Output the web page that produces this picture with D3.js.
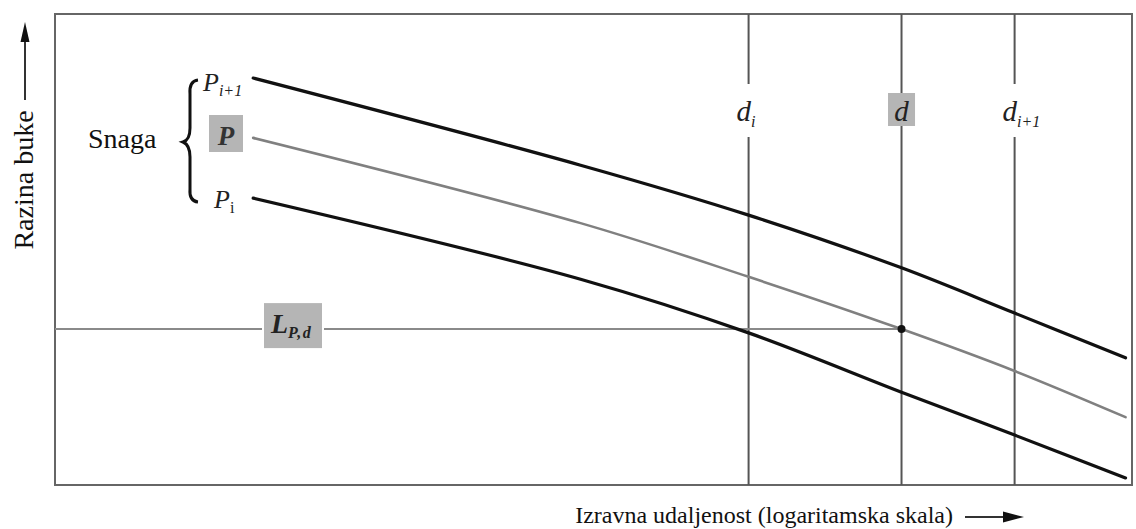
<!DOCTYPE html>
<html><head><meta charset="utf-8">
<script src="https://cdn.jsdelivr.net/npm/d3@7"></script>
<style>
html,body{margin:0;padding:0;background:#fff;}
svg{display:block;font-family:"Liberation Serif","DejaVu Serif",serif;}
</style></head>
<body>
<svg id="c" width="1136" height="529"></svg>
<script>
// ---- data (arbitrary units) ----
const distancePts = [18.4, 48.8, 64.4, 78.6, 89.1, 99.4];
const levelHigh   = [86.4, 67.9, 57.3, 46.1, 36.5, 27.0];   // P_{i+1}
const levelMid    = [73.7, 55.6, 44.2, 33.1, 24.2, 14.4];   // P
const levelLow    = [60.9, 43.7, 32.3, 19.7, 10.6, 1.5];    // P_i
const markerDistances = [64.4, 78.6, 89.1];                  // d_i, d, d_{i+1}
const markerLabels = [["d","i"],["d",""],["d","i+1"]];
const levelLpd = 33.1;
const xTitle = "Izravna udaljenost (logaritamska skala)";
const yTitle = "Razina buke";
const groupTitle = "Snaga";

const svg = d3.select("#c");
const L = 55, R = 1132, T = 14, B = 485;
const x = d3.scaleLinear().domain([0,100]).range([L,R]);
const y = d3.scaleLinear().domain([0,100]).range([B,T]);

// frame
svg.append("rect").attr("x",L).attr("y",T).attr("width",R-L).attr("height",B-T)
  .attr("fill","none").attr("stroke","#666").attr("stroke-width",2);

// vertical marker lines
markerDistances.forEach((d,i)=>{
  svg.append("line").attr("x1",x(d)).attr("x2",x(d)).attr("y1",T).attr("y2",B)
    .attr("stroke","#555").attr("stroke-width",2);
});

// horizontal L_P,d line
svg.append("line").attr("x1",L).attr("x2",x(markerDistances[1]))
  .attr("y1",y(levelLpd)).attr("y2",y(levelLpd))
  .attr("stroke","#8a8a8a").attr("stroke-width",2);

// curves
const line = d3.line().x((d,i)=>x(distancePts[i])).y(d=>y(d)).curve(d3.curveCatmullRom.alpha(0.5));
[[levelLow,"#111",3.2],[levelMid,"#808080",2.6],[levelHigh,"#111",3.2]].forEach(([arr,c,w])=>{
  svg.append("path").attr("d",line(arr)).attr("fill","none").attr("stroke",c)
    .attr("stroke-width",w).attr("stroke-linecap","round");
});

// intersection dot
svg.append("circle").attr("cx",x(markerDistances[1])).attr("cy",y(levelLpd)).attr("r",4).attr("fill","#111");

// marker labels with gaps
markerLabels.forEach((lab,i)=>{
  const cx = x(markerDistances[i]);
  const g = svg.append("g");
  const bg = g.append("rect");
  const t = g.append("text").attr("x", cx - (lab[1]? 12 : 0)).attr("y",121)
    .attr("text-anchor", lab[1] ? "start" : "middle")
    .attr("font-size",29).attr("font-style","italic").attr("fill","#222");
  t.append("tspan").text(lab[0]);
  if(lab[1]) t.append("tspan").attr("font-size",16).attr("font-style","italic").attr("dy",6).text(lab[1]);
  if(i===1){
    bg.attr("x",cx-13.5).attr("y",93).attr("width",27).attr("height",33).attr("fill","#b5b5b5");
  } else {
    bg.attr("x",cx-14).attr("y",84).attr("width",28).attr("height",53).attr("fill","#fff");
  }
});

// L_P,d label box
const lx = 293, ly = y(levelLpd);
svg.append("rect").attr("x",lx-31).attr("y",ly-26).attr("width",62).attr("height",45).attr("fill","#fff");
svg.append("rect").attr("x",lx-29).attr("y",ly-26).attr("width",58).attr("height",45).attr("fill","#b5b5b5");
const lt = svg.append("text").attr("x",lx-22).attr("y",ly+4).attr("font-size",28)
  .attr("font-style","italic").attr("font-weight","bold").attr("fill","#222");
lt.append("tspan").text("L");
lt.append("tspan").attr("font-size",16).attr("dy",5).attr("letter-spacing",1.5).text("P,d");

// P labels
const pTxt = (px,py,sub,subStyle)=>{
  const t = svg.append("text").attr("x",px).attr("y",py).attr("font-size",26)
    .attr("font-style","italic").attr("fill","#222");
  t.append("tspan").text("P");
  t.append("tspan").attr("font-size",16).attr("dy",5).attr("font-style",subStyle).text(sub);
};
pTxt(203, y(levelHigh[0])+13, "i+1","italic");
pTxt(214, y(levelLow[0])+10, "i","normal");
svg.append("rect").attr("x",209).attr("y",115).attr("width",34).attr("height",37).attr("fill","#b5b5b5");
svg.append("text").attr("x",226).attr("y",145).attr("text-anchor","middle").attr("font-size",27)
  .attr("font-style","italic").attr("font-weight","bold").attr("fill","#333").text("P");

// brace
svg.append("path")
  .attr("d","M198,80 Q189,81 190,94 L190,128 Q190,140 183,142 Q190,145 190,157 L190,189 Q189,201 198,202")
  .attr("fill","none").attr("stroke","#111").attr("stroke-width",3);
svg.append("text").attr("x",88).attr("y",148).attr("font-size",28).attr("fill","#111").text(groupTitle);

// y axis title + arrow
svg.append("text").attr("transform","translate(33,180) rotate(-90)").attr("text-anchor","middle")
  .attr("font-size",28).attr("fill","#111").text(yTitle);
svg.append("line").attr("x1",25).attr("x2",25).attr("y1",100).attr("y2",40).attr("stroke","#333").attr("stroke-width",2);
svg.append("path").attr("d","M25,22 L29.5,42 L20.5,42 Z").attr("fill","#111");

// x axis title + arrow
svg.append("text").attr("x",953).attr("y",523).attr("text-anchor","end")
  .attr("font-size",24).attr("fill","#111").text(xTitle);
svg.append("line").attr("x1",965).attr("x2",1008).attr("y1",517).attr("y2",517).attr("stroke","#333").attr("stroke-width",2);
svg.append("path").attr("d","M1024,517 L1003,511.5 L1003,522.5 Z").attr("fill","#111");
</script>
</body></html>
